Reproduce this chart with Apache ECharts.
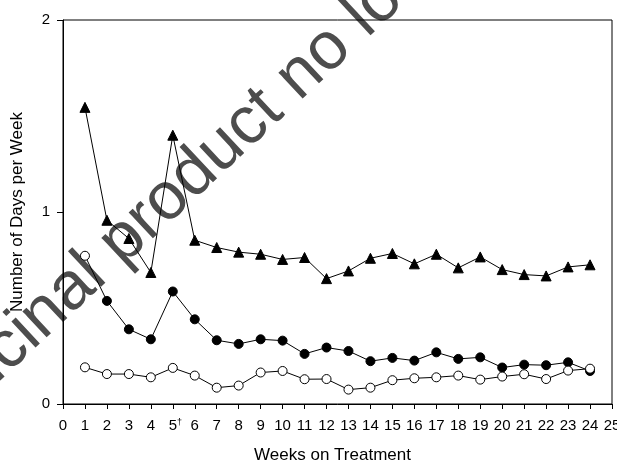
<!DOCTYPE html>
<html>
<head>
<meta charset="utf-8">
<script src="https://cdn.jsdelivr.net/npm/echarts@6/dist/echarts.min.js"></script>
<style>
html,body{margin:0;padding:0;background:#fff;}
#chart{width:617px;height:465px;}
</style>
</head>
<body>
<div id="chart"></div>
<script>
var weeks = [1,2,3,4,5,6,7,8,9,10,11,12,13,14,15,16,17,18,19,20,21,22,23,24];
var xTicks = [0,1,2,3,4,5,6,7,8,9,10,11,12,13,14,15,16,17,18,19,20,21,22,23,24,25];
var yTicks = [0,1,2];
var triangleSeries = [1.545,0.957,0.862,0.685,1.40,0.853,0.815,0.791,0.780,0.753,0.763,0.653,0.693,0.759,0.784,0.730,0.780,0.709,0.766,0.700,0.674,0.667,0.714,0.725];
var filledSeries = [0.772,0.537,0.389,0.337,0.586,0.441,0.332,0.313,0.337,0.330,0.261,0.294,0.276,0.223,0.240,0.226,0.269,0.235,0.243,0.190,0.205,0.202,0.217,0.172];
var openSeries = [0.191,0.156,0.156,0.139,0.188,0.148,0.085,0.096,0.164,0.172,0.129,0.130,0.075,0.085,0.124,0.134,0.139,0.148,0.127,0.143,0.155,0.130,0.174,0.184];
var footnoteWeek = 5;
var xTitle = 'Weeks on Treatment';
var yTitle = 'Number of Days per Week';
var watermark = 'Medicinal product no longer authorised';

var chart = echarts.init(document.getElementById('chart'), null, {renderer:'canvas'});
function pairs(vals){ return weeks.map(function(w,i){ return [w, vals[i]]; }); }
var filledData = pairs(filledSeries).map(function(p,i){
  if(i===0) return {value:p, itemStyle:{color:'#fff', borderColor:'#000', borderWidth:1}};
  return p;
});
var font = '"Liberation Sans", Arial, sans-serif';
chart.setOption({
  animation:false,
  backgroundColor:'#fff',
  graphic:[{
    type:'text', x:-111, y:459, rotation:43*Math.PI/180, z:-10, silent:true,
    style:{text:watermark, fontSize:67, fontFamily:font, fill:'#4d4d4d', align:'left', verticalAlign:'middle'}
  }],
  grid:{left:63,right:5,top:20,bottom:61,show:true,borderColor:'#000',borderWidth:1,backgroundColor:'transparent',outerBoundsMode:'none',containLabel:false},
  xAxis:{
    type:'value', min:xTicks[0], max:xTicks[xTicks.length-1], interval:1,
    name:xTitle, nameLocation:'middle', nameGap:43,
    nameTextStyle:{fontSize:17,color:'#000',fontFamily:font,padding:[0,10,0,0]},
    axisLine:{onZero:false,lineStyle:{color:'#000',width:1}},
    axisTick:{inside:false,length:5,lineStyle:{color:'#000'}},
    splitLine:{show:false},
    axisLabel:{margin:14,fontSize:15,color:'#000',fontFamily:font,showMaxLabel:true,showMinLabel:true,hideOverlap:false,
      formatter:function(v){ return v===footnoteWeek ? '{p|}'+v+'{s|†}' : String(v); },
      rich:{s:{fontSize:9,verticalAlign:'top',color:'#000',fontFamily:font},p:{width:5}}}
  },
  yAxis:{
    type:'value', min:yTicks[0], max:yTicks[yTicks.length-1], interval:1,
    name:yTitle, nameLocation:'middle', nameGap:37,
    nameTextStyle:{fontSize:17,color:'#000',fontFamily:font},
    axisLine:{onZero:false,lineStyle:{color:'#000',width:1}},
    axisTick:{inside:false,length:6,lineStyle:{color:'#000'}},
    splitLine:{show:false},
    axisLabel:{margin:13,fontSize:15,color:'#000',fontFamily:font}
  },
  series:[
    {type:'line',data:pairs(triangleSeries),symbol:'triangle',symbolSize:10,
     lineStyle:{color:'#000',width:1},itemStyle:{color:'#000',borderColor:'#000'},z:3},
    {type:'line',data:filledData,symbol:'circle',symbolSize:9,
     lineStyle:{color:'#000',width:1},itemStyle:{color:'#000',borderColor:'#000',borderWidth:1},z:4},
    {type:'line',data:pairs(openSeries),symbol:'circle',symbolSize:9,
     lineStyle:{color:'#000',width:1},itemStyle:{color:'#fff',borderColor:'#000',borderWidth:1},z:5}
  ]
});
</script>
</body>
</html>
